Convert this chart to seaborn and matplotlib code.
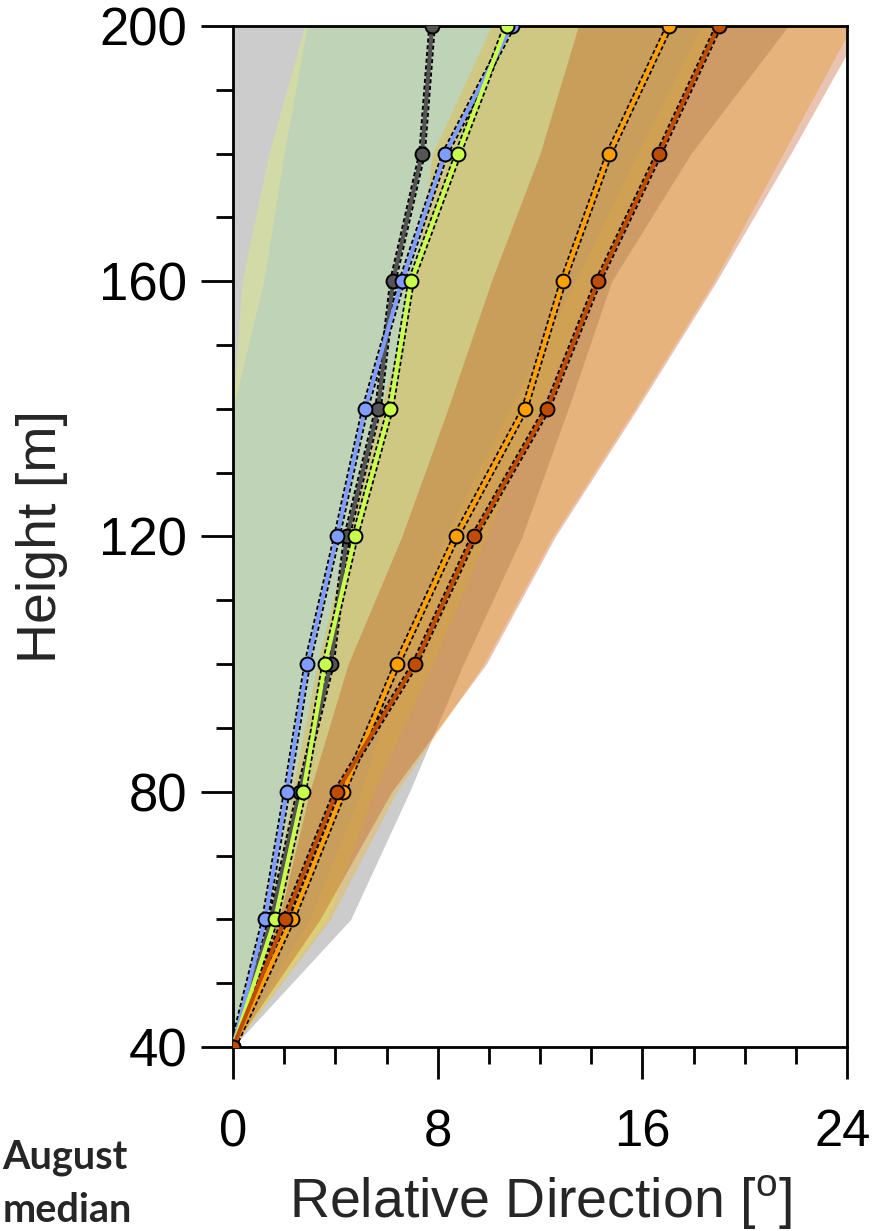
import matplotlib
matplotlib.use("Agg")
import matplotlib.pyplot as plt
import matplotlib.transforms as mtransforms
import numpy as np
import pandas as pd
import seaborn as sns
from matplotlib.ticker import MultipleLocator

# Heights of the measurement levels (m)
heights = [40, 60, 80, 100, 120, 140, 160, 180, 200]

# Median relative wind direction at each level (deg)
med_gray = [0, 1.5, 2.6, 3.83, 4.45, 5.67, 6.25, 7.39, 7.78]
med_blue = [0, 1.25, 2.1, 2.9, 4.06, 5.16, 6.6, 8.29, 10.9]
med_yg = [0, 1.64, 2.74, 3.6, 4.77, 6.14, 6.96, 8.8, 10.7]
med_orange = [0, 2.3, 4.3, 6.41, 8.72, 11.4, 12.9, 14.7, 17.05]
med_dorange = [0, 2.03, 4.05, 7.11, 9.42, 12.27, 14.27, 16.65, 18.98]

# Spread envelopes (lower / upper) at each level (deg)
lo_gray = [0, -1, -2, -3, -4, -5, -6, -7, -8]
hi_gray = [0, 4.6, 6.9, 9.0, 11.3, 13.1, 14.8, 17.9, 21.7]
lo_yg = [0, 0, 0, 0, 0, 0, 0.35, 1.4, 2.8]
hi_yg = [0, 3.7, 5.5, 7.8, 9.9, 12.0, 14.1, 16.6, 18.9]
lo_blue = [0, 0, 0, 0, 0, 0, 1.2, 2.0, 2.9]
hi_blue = [0, 3.0, 5.0, 6.6, 8.3, 10.8, 13.4, 15.8, 18.3]
lo_orange = [0, 1.5, 2.3, 3.3, 4.5, 5.8, 7.1, 7.8, 10.1]
hi_orange = [0, 3.8, 6.4, 9.8, 12.5, 15.7, 18.8, 21.5, 24.2]
lo_dorange = [0, 1.8, 3.0, 4.5, 6.6, 8.4, 10.1, 12.0, 13.5]
hi_dorange = [0, 3.4, 6.2, 9.9, 12.6, 15.8, 18.9, 21.8, 24.6]

x_ticks = [0, 8, 16, 24]
y_ticks = [40, 80, 120, 160, 200]

sns.set_style("ticks")
plt.rcParams["font.family"] = ["Liberation Sans", "DejaVu Sans"]
plt.rcParams["mathtext.fontset"] = "custom"
plt.rcParams["mathtext.rm"] = "Liberation Sans"

fig = plt.figure(figsize=(8.73, 12.31), dpi=100)
ax = fig.add_axes([233 / 873, 184 / 1231, 614 / 873, 1021 / 1231])

# Shaded envelopes, drawn back to front
bands = [
    (lo_gray, hi_gray, "#808080", 0.40),
    (lo_yg, hi_yg, "#e0ff54", 0.30),
    (lo_blue, hi_blue, "#96c1dd", 0.30),
    (lo_orange, hi_orange, "#f5af09", 0.30),
    (lo_dorange, hi_dorange, "#b93d00", 0.30),
]
for lo, hi, col, a in bands:
    ax.fill_betweenx(heights, lo, hi, color=col, alpha=a, lw=0, zorder=1)

# Median profiles
profiles = [
    ("gray", med_gray, "#555555"),
    ("blue", med_blue, "#7f9cff"),
    ("yellowgreen", med_yg, "#c8ff4a"),
    ("orange", med_orange, "#ffa000"),
    ("darkorange", med_dorange, "#c04c00"),
]
for name, vals, col in profiles:
    df = pd.DataFrame({"direction": vals, "height": heights})
    sns.lineplot(data=df, x="direction", y="height", orient="y", sort=False,
                 estimator=None, color="black", lw=5.4,
                 linestyle=(0, (0.55, 0.35)), ax=ax, zorder=3)
    sns.lineplot(data=df, x="direction", y="height", orient="y", sort=False,
                 estimator=None, color=col, lw=2.9, marker="o", markersize=10,
                 markerfacecolor=col, markeredgecolor="black",
                 markeredgewidth=1.4, ax=ax, zorder=4)

ax.set_xlim(0, 24)
ax.set_ylim(40, 200)
ax.set_xticks(x_ticks)
ax.set_yticks(y_ticks)
ax.xaxis.set_minor_locator(MultipleLocator(2))
ax.yaxis.set_minor_locator(MultipleLocator(10))

for sp in ax.spines.values():
    sp.set_visible(True)
    sp.set_linewidth(2.0)
    sp.set_color("black")

ax.tick_params(axis="both", which="both", direction="out", top=False,
               right=False, width=2.0, colors="black")
ax.tick_params(axis="x", which="major", length=23, pad=21, labelsize=36.5)
ax.tick_params(axis="x", which="minor", length=12)
ax.tick_params(axis="y", which="major", length=23, pad=10, labelsize=38)
ax.tick_params(axis="y", which="minor", length=12)

# keep the last x tick label inside the canvas
last = ax.get_xticklabels()[-1]
last.set_transform(last.get_transform() +
                   mtransforms.ScaledTranslation(-4 / 100, 0, fig.dpi_scale_trans))

ax.set_xlabel(r"Relative Direction [$^\mathregular{o}$]", fontsize=40)
ax.set_ylabel("Height [m]", fontsize=40)
ax.xaxis.label.set_va("center")
ax.yaxis.label.set_va("center")
ax.xaxis.set_label_coords(0.5, -0.152)
ax.yaxis.set_label_coords(-0.311, 0.5)

fig.text(0.003, 1 - 1157 / 1231, "August", fontsize=28.5, fontweight="bold",
         family=["Lato", "DejaVu Sans"], ha="left", va="center")
fig.text(0.003, 1 - 1211 / 1231, "median", fontsize=28.5, fontweight="bold",
         family=["Lato", "DejaVu Sans"], ha="left", va="center")

fig.savefig("out.png", dpi=100)
